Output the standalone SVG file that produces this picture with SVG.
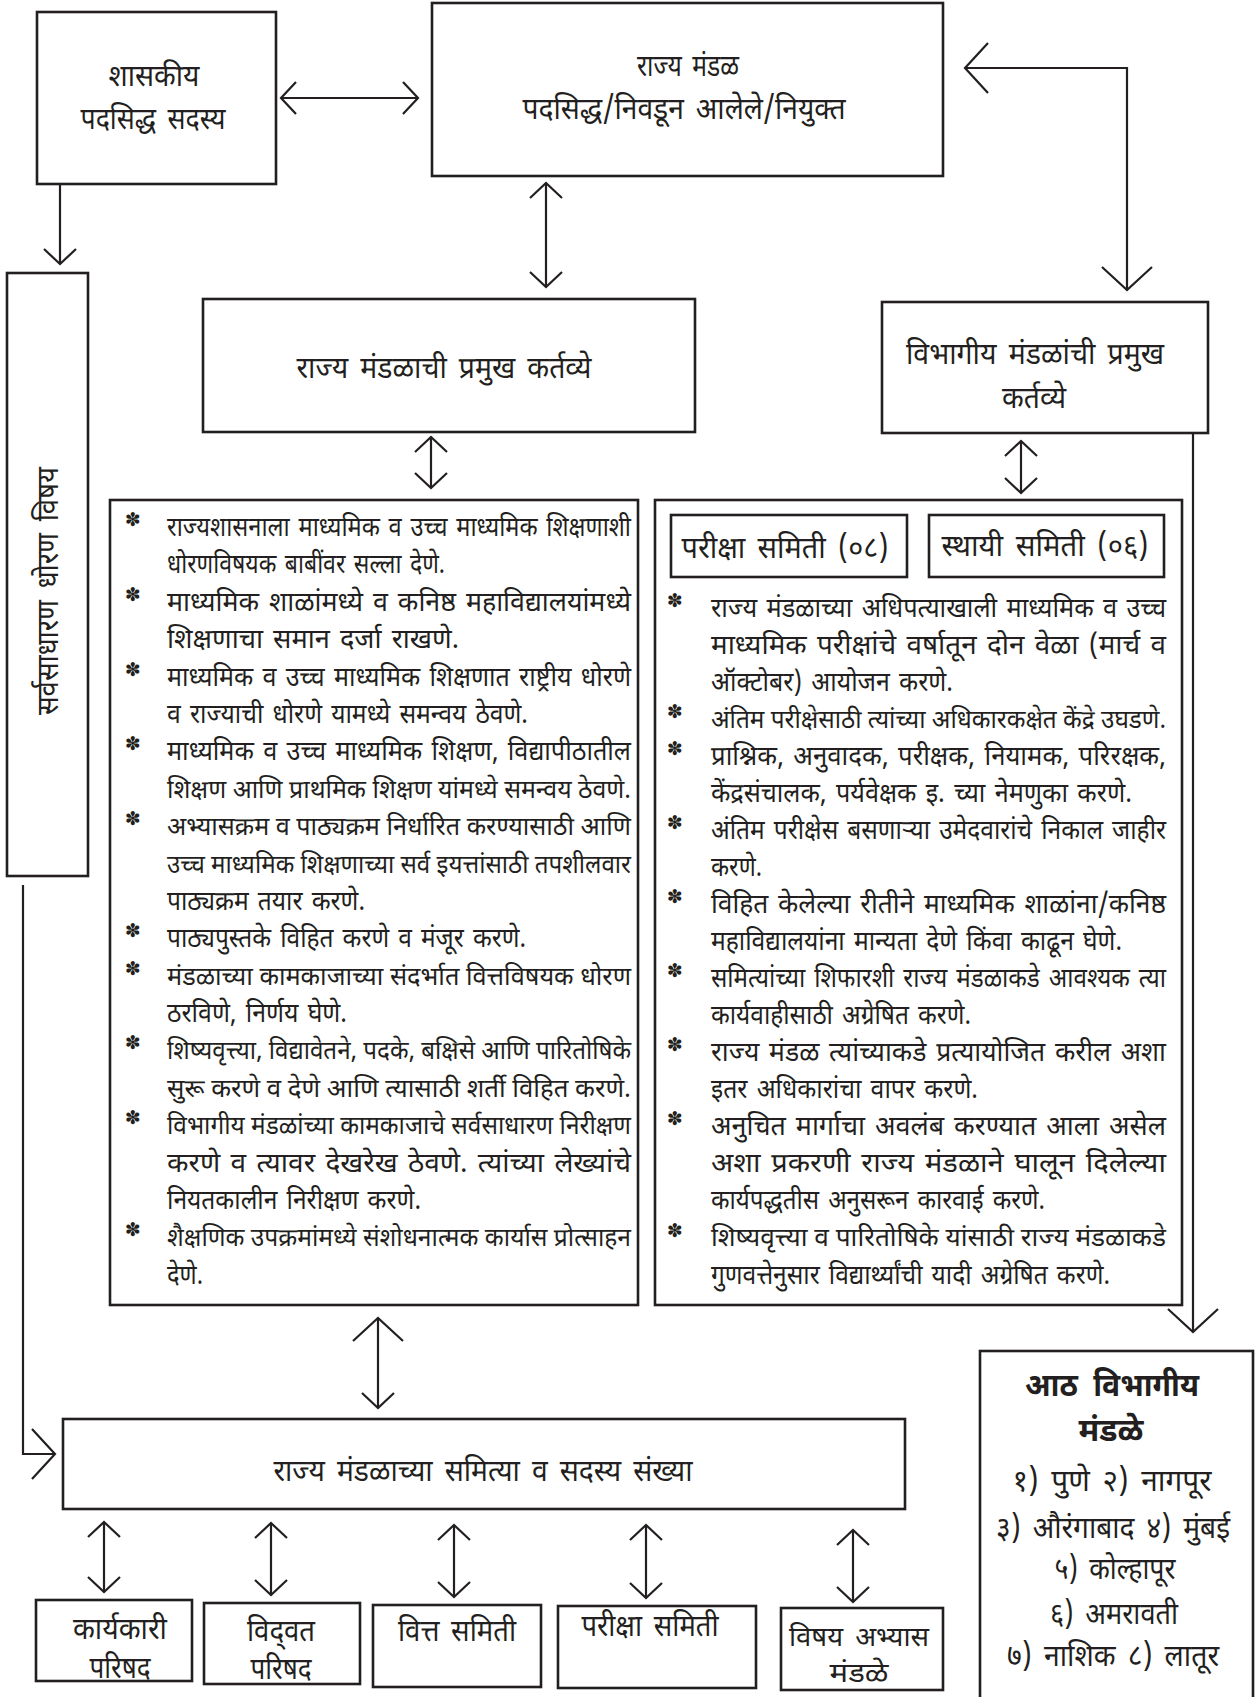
<svg xmlns="http://www.w3.org/2000/svg" width="1257" height="1697" viewBox="0 0 1257 1697">
<defs>
<style>
.box{fill:#fff;stroke:#231f20;stroke-width:2.6}
.ln{fill:none;stroke:#231f20;stroke-width:2.2}
text{font-family:"Noto Sans Devanagari","Lohit Devanagari","Noto Sans",sans-serif;fill:#231f20}
.t{font-size:30px;text-anchor:middle;word-spacing:5px}
.l{font-size:27px;word-spacing:3px}
.n{font-size:25px;word-spacing:0}
.m{font-size:27px}
.s{font-family:"DejaVu Sans",sans-serif;font-size:19px;text-anchor:middle}
.h{font-size:32px;font-weight:bold;text-anchor:middle;word-spacing:8px}
</style>
<marker id="a" viewBox="-18 -18 20 36" refX="0" refY="0" markerWidth="20" markerHeight="36" markerUnits="userSpaceOnUse" orient="auto-start-reverse">
<path d="M-15,-16 L0,0 L-15,16" fill="none" stroke="#231f20" stroke-width="2.2"/>
</marker>
<marker id="b" viewBox="-26 -28 28 56" refX="0" refY="0" markerWidth="28" markerHeight="56" markerUnits="userSpaceOnUse" orient="auto-start-reverse">
<path d="M-23,-25 L0,0 L-23,25" fill="none" stroke="#231f20" stroke-width="2.2"/>
</marker>
</defs>
<rect width="1257" height="1697" fill="#fff"/>

<g id="connectors">
<line class="ln" x1="281" y1="98" x2="418" y2="98" marker-start="url(#a)" marker-end="url(#a)"/>
<line class="ln" x1="546" y1="183" x2="546" y2="287" marker-start="url(#a)" marker-end="url(#a)"/>
<path class="ln" d="M965,68 H1127 V290" marker-start="url(#b)" marker-end="url(#b)"/>
<line class="ln" x1="60" y1="184" x2="60" y2="264" marker-end="url(#a)"/>
<line class="ln" x1="431" y1="437" x2="431" y2="488" marker-start="url(#a)" marker-end="url(#a)"/>
<line class="ln" x1="1021" y1="441" x2="1021" y2="493" marker-start="url(#a)" marker-end="url(#a)"/>
<line class="ln" x1="1193" y1="433" x2="1193" y2="1332" marker-end="url(#b)"/>
<line class="ln" x1="378" y1="1318" x2="378" y2="1408" marker-start="url(#b)" marker-end="url(#a)"/>
<path class="ln" d="M23,885 V1454 H55" marker-end="url(#b)"/>
<line class="ln" x1="104" y1="1522" x2="104" y2="1592" marker-start="url(#a)" marker-end="url(#a)"/>
<line class="ln" x1="271" y1="1523" x2="271" y2="1595" marker-start="url(#a)" marker-end="url(#a)"/>
<line class="ln" x1="454" y1="1525" x2="454" y2="1597" marker-start="url(#a)" marker-end="url(#a)"/>
<line class="ln" x1="646" y1="1525" x2="646" y2="1598" marker-start="url(#a)" marker-end="url(#a)"/>
<line class="ln" x1="853" y1="1530" x2="853" y2="1602" marker-start="url(#a)" marker-end="url(#a)"/>
</g>

<g id="shaskiya">
<rect class="box" x="37" y="12" width="239" height="172"/>
<text class="t" x="154" y="86" textLength="91" lengthAdjust="spacingAndGlyphs">शासकीय</text>
<text class="t" x="153" y="129" textLength="145" lengthAdjust="spacingAndGlyphs">पदसिद्ध सदस्य</text>
</g>

<g id="rajya-mandal">
<rect class="box" x="432" y="3" width="511" height="173"/>
<text class="t" x="688" y="76" textLength="102" lengthAdjust="spacingAndGlyphs">राज्य मंडळ</text>
<text class="t" x="684" y="119" textLength="323" lengthAdjust="spacingAndGlyphs">पदसिद्ध/निवडून आलेले/नियुक्त</text>
</g>

<g id="sarvasadharan">
<rect class="box" x="7" y="273" width="81" height="603"/>
<text class="t" transform="translate(58,591) rotate(-90)" textLength="248" lengthAdjust="spacingAndGlyphs">सर्वसाधारण धोरण विषय</text>
</g>

<g id="rajya-kartavye">
<rect class="box" x="203" y="299" width="492" height="133"/>
<text class="t" x="444" y="378" textLength="295" lengthAdjust="spacingAndGlyphs">राज्य मंडळाची प्रमुख कर्तव्ये</text>
</g>

<g id="vibhagiya-kartavye">
<rect class="box" x="882" y="302" width="326" height="131"/>
<text class="t" x="1035" y="364" textLength="258" lengthAdjust="spacingAndGlyphs">विभागीय मंडळांची प्रमुख</text>
<text class="t" x="1034" y="408" textLength="64" lengthAdjust="spacingAndGlyphs">कर्तव्ये</text>
</g>

<g id="rajya-list">
<rect class="box" x="110" y="500" width="528" height="805"/>
<text class="s" x="133" y="526">✽</text>
<text class="s" x="133" y="601">✽</text>
<text class="s" x="133" y="676">✽</text>
<text class="s" x="133" y="750">✽</text>
<text class="s" x="133" y="825">✽</text>
<text class="s" x="133" y="937">✽</text>
<text class="s" x="133" y="975">✽</text>
<text class="s" x="133" y="1049">✽</text>
<text class="s" x="133" y="1124">✽</text>
<text class="s" x="133" y="1236">✽</text>
<text class="l" x="167" y="536" textLength="464" lengthAdjust="spacingAndGlyphs">राज्यशासनाला माध्यमिक व उच्च माध्यमिक शिक्षणाशी</text>
<text class="l" x="167" y="573" textLength="278" lengthAdjust="spacingAndGlyphs">धोरणविषयक बाबींवर सल्ला देणे.</text>
<text class="l" x="167" y="611" textLength="464" lengthAdjust="spacingAndGlyphs">माध्यमिक शाळांमध्ये व कनिष्ठ महाविद्यालयांमध्ये</text>
<text class="l" x="167" y="648" textLength="292" lengthAdjust="spacingAndGlyphs">शिक्षणाचा समान दर्जा राखणे.</text>
<text class="l" x="167" y="686" textLength="464" lengthAdjust="spacingAndGlyphs">माध्यमिक व उच्च माध्यमिक शिक्षणात राष्ट्रीय धोरणे</text>
<text class="l" x="167" y="723" textLength="361" lengthAdjust="spacingAndGlyphs">व राज्याची धोरणे यामध्ये समन्वय ठेवणे.</text>
<text class="l" x="167" y="760" textLength="464" lengthAdjust="spacingAndGlyphs">माध्यमिक व उच्च माध्यमिक शिक्षण, विद्यापीठातील</text>
<text class="l n" x="167" y="798" textLength="464" lengthAdjust="spacingAndGlyphs">शिक्षण आणि प्राथमिक शिक्षण यांमध्ये समन्वय ठेवणे.</text>
<text class="l n" x="167" y="835" textLength="464" lengthAdjust="spacingAndGlyphs">अभ्यासक्रम व पाठ्यक्रम निर्धारित करण्यासाठी आणि</text>
<text class="l n" x="167" y="873" textLength="464" lengthAdjust="spacingAndGlyphs">उच्च माध्यमिक शिक्षणाच्या सर्व इयत्तांसाठी तपशीलवार</text>
<text class="l" x="167" y="910" textLength="198" lengthAdjust="spacingAndGlyphs">पाठ्यक्रम तयार करणे.</text>
<text class="l" x="167" y="947" textLength="359" lengthAdjust="spacingAndGlyphs">पाठ्यपुस्तके विहित करणे व मंजूर करणे.</text>
<text class="l n" x="167" y="985" textLength="464" lengthAdjust="spacingAndGlyphs">मंडळाच्या कामकाजाच्या संदर्भात वित्तविषयक धोरण</text>
<text class="l" x="167" y="1022" textLength="180" lengthAdjust="spacingAndGlyphs">ठरविणे, निर्णय घेणे.</text>
<text class="l n" x="167" y="1059" textLength="464" lengthAdjust="spacingAndGlyphs">शिष्यवृत्त्या, विद्यावेतने, पदके, बक्षिसे आणि पारितोषिके</text>
<text class="l n" x="167" y="1097" textLength="464" lengthAdjust="spacingAndGlyphs">सुरू करणे व देणे आणि त्यासाठी शर्ती विहित करणे.</text>
<text class="l n" x="167" y="1134" textLength="464" lengthAdjust="spacingAndGlyphs">विभागीय मंडळांच्या कामकाजाचे सर्वसाधारण निरीक्षण</text>
<text class="l" x="167" y="1172" textLength="464" lengthAdjust="spacingAndGlyphs">करणे व त्यावर देखरेख ठेवणे. त्यांच्या लेख्यांचे</text>
<text class="l" x="167" y="1209" textLength="254" lengthAdjust="spacingAndGlyphs">नियतकालीन निरीक्षण करणे.</text>
<text class="l n" x="167" y="1246" textLength="464" lengthAdjust="spacingAndGlyphs">शैक्षणिक उपक्रमांमध्ये संशोधनात्मक कार्यास प्रोत्साहन</text>
<text class="l" x="167" y="1284" textLength="36" lengthAdjust="spacingAndGlyphs">देणे.</text>
</g>

<g id="vibhagiya-list">
<rect class="box" x="655" y="500" width="527" height="805"/>
<rect class="box" x="671" y="515" width="236" height="62"/>
<text class="t" x="785" y="558" textLength="207" lengthAdjust="spacingAndGlyphs">परीक्षा समिती (०८)</text>
<rect class="box" x="929" y="515" width="235" height="62"/>
<text class="t" x="1045" y="556" textLength="207" lengthAdjust="spacingAndGlyphs">स्थायी समिती (०६)</text>
<text class="s" x="675" y="607">✽</text>
<text class="s" x="675" y="718">✽</text>
<text class="s" x="675" y="755">✽</text>
<text class="s" x="675" y="829">✽</text>
<text class="s" x="675" y="903">✽</text>
<text class="s" x="675" y="977">✽</text>
<text class="s" x="675" y="1051">✽</text>
<text class="s" x="675" y="1125">✽</text>
<text class="s" x="675" y="1237">✽</text>
<text class="l" x="711" y="617" textLength="455" lengthAdjust="spacingAndGlyphs">राज्य मंडळाच्या अधिपत्याखाली माध्यमिक व उच्च</text>
<text class="l" x="711" y="654" textLength="455" lengthAdjust="spacingAndGlyphs">माध्यमिक परीक्षांचे वर्षातून दोन वेळा (मार्च व</text>
<text class="l" x="711" y="691" textLength="242" lengthAdjust="spacingAndGlyphs">ऑक्टोबर) आयोजन करणे.</text>
<text class="l n" x="711" y="728" textLength="455" lengthAdjust="spacingAndGlyphs">अंतिम परीक्षेसाठी त्यांच्या अधिकारकक्षेत केंद्रे उघडणे.</text>
<text class="l" x="711" y="765" textLength="455" lengthAdjust="spacingAndGlyphs">प्राश्निक, अनुवादक, परीक्षक, नियामक, परिरक्षक,</text>
<text class="l" x="711" y="802" textLength="421" lengthAdjust="spacingAndGlyphs">केंद्रसंचालक, पर्यवेक्षक इ. च्या नेमणुका करणे.</text>
<text class="l" x="711" y="839" textLength="455" lengthAdjust="spacingAndGlyphs">अंतिम परीक्षेस बसणाऱ्या उमेदवारांचे निकाल जाहीर</text>
<text class="l" x="711" y="876" textLength="51" lengthAdjust="spacingAndGlyphs">करणे.</text>
<text class="l" x="711" y="913" textLength="455" lengthAdjust="spacingAndGlyphs">विहित केलेल्या रीतीने माध्यमिक शाळांना/कनिष्ठ</text>
<text class="l" x="711" y="950" textLength="411" lengthAdjust="spacingAndGlyphs">महाविद्यालयांना मान्यता देणे किंवा काढून घेणे.</text>
<text class="l" x="711" y="987" textLength="455" lengthAdjust="spacingAndGlyphs">समित्यांच्या शिफारशी राज्य मंडळाकडे आवश्यक त्या</text>
<text class="l" x="711" y="1024" textLength="260" lengthAdjust="spacingAndGlyphs">कार्यवाहीसाठी अग्रेषित करणे.</text>
<text class="l" x="711" y="1061" textLength="455" lengthAdjust="spacingAndGlyphs">राज्य मंडळ त्यांच्याकडे प्रत्यायोजित करील अशा</text>
<text class="l" x="711" y="1098" textLength="267" lengthAdjust="spacingAndGlyphs">इतर अधिकारांचा वापर करणे.</text>
<text class="l" x="711" y="1135" textLength="455" lengthAdjust="spacingAndGlyphs">अनुचित मार्गाचा अवलंब करण्यात आला असेल</text>
<text class="l" x="711" y="1172" textLength="455" lengthAdjust="spacingAndGlyphs">अशा प्रकरणी राज्य मंडळाने घालून दिलेल्या</text>
<text class="l" x="711" y="1209" textLength="334" lengthAdjust="spacingAndGlyphs">कार्यपद्धतीस अनुसरून कारवाई करणे.</text>
<text class="l n" x="711" y="1246" textLength="455" lengthAdjust="spacingAndGlyphs">शिष्यवृत्त्या व पारितोषिके यांसाठी राज्य मंडळाकडे</text>
<text class="l" x="711" y="1284" textLength="399" lengthAdjust="spacingAndGlyphs">गुणवत्तेनुसार विद्यार्थ्यांची यादी अग्रेषित करणे.</text>
</g>

<g id="aath-mandale">
<rect class="box" x="980" y="1351" width="273" height="360"/>
<text class="h" x="1112" y="1396" textLength="174" lengthAdjust="spacingAndGlyphs">आठ विभागीय</text>
<text class="h" x="1111" y="1441" textLength="65" lengthAdjust="spacingAndGlyphs">मंडळे</text>
<text class="t" x="1112" y="1491" textLength="199" lengthAdjust="spacingAndGlyphs">१) पुणे  २) नागपूर</text>
<text class="t" x="1113" y="1538" textLength="234" lengthAdjust="spacingAndGlyphs">३) औरंगाबाद ४) मुंबई</text>
<text class="t" x="1115" y="1579" textLength="121" lengthAdjust="spacingAndGlyphs">५) कोल्हापूर</text>
<text class="t" x="1114" y="1624" textLength="128" lengthAdjust="spacingAndGlyphs">६) अमरावती</text>
<text class="t" x="1113" y="1666" textLength="212" lengthAdjust="spacingAndGlyphs">७) नाशिक ८) लातूर</text>
</g>

<g id="samitya">
<rect class="box" x="63" y="1419" width="842" height="90"/>
<text class="t" x="483" y="1481" textLength="419" lengthAdjust="spacingAndGlyphs">राज्य मंडळाच्या समित्या व सदस्य संख्या</text>
</g>

<g id="karyakari">
<rect class="box" x="36" y="1600" width="156" height="81"/>
<text class="t" x="120" y="1639" textLength="94" lengthAdjust="spacingAndGlyphs">कार्यकारी</text>
<text class="t" x="120" y="1678" textLength="61" lengthAdjust="spacingAndGlyphs">परिषद</text>
</g>
<g id="vidvat">
<rect class="box" x="204" y="1603" width="156" height="81"/>
<text class="t" x="281" y="1641" textLength="68" lengthAdjust="spacingAndGlyphs">विद्‌वत</text>
<text class="t" x="281" y="1679" textLength="61" lengthAdjust="spacingAndGlyphs">परिषद</text>
</g>
<g id="vitta">
<rect class="box" x="373" y="1605" width="168" height="82"/>
<text class="t" x="457" y="1641" textLength="118" lengthAdjust="spacingAndGlyphs">वित्त समिती</text>
</g>
<g id="pariksha">
<rect class="box" x="558" y="1606" width="198" height="82"/>
<text class="t" x="650" y="1636" textLength="137" lengthAdjust="spacingAndGlyphs">परीक्षा समिती</text>
</g>
<g id="vishay">
<rect class="box" x="781" y="1608" width="162" height="82"/>
<text class="t m" x="859" y="1646" textLength="140" lengthAdjust="spacingAndGlyphs">विषय अभ्यास</text>
<text class="t m" x="859" y="1682" textLength="59" lengthAdjust="spacingAndGlyphs">मंडळे</text>
</g>
</svg>
